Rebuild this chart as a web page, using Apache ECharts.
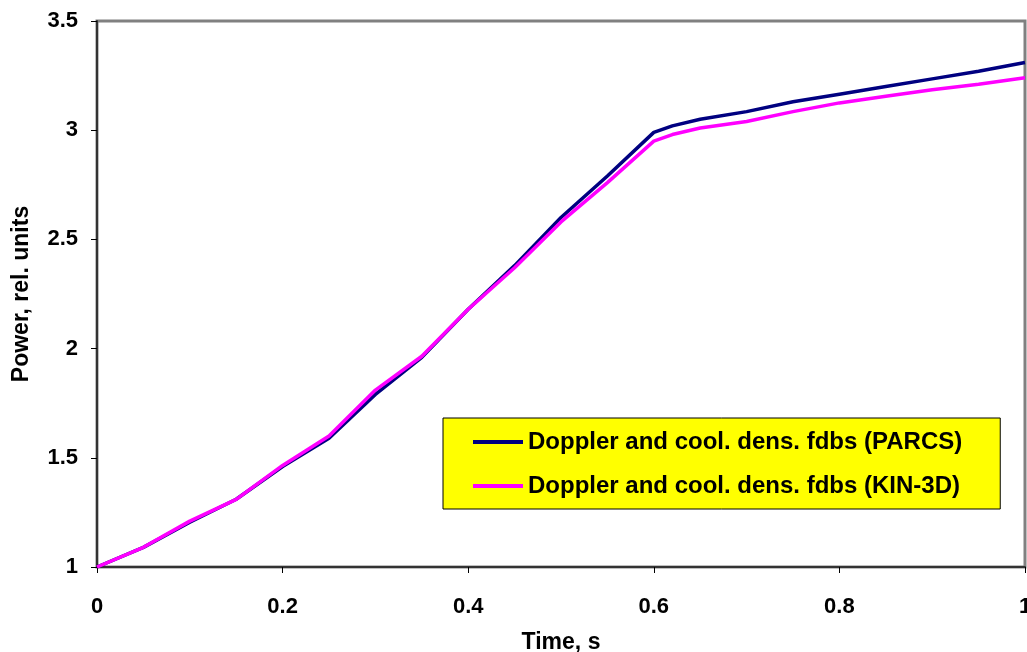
<!DOCTYPE html>
<html style="height: 100%">
<head>
    <meta charset="utf-8">
</head>
<body style="height: 100%; margin: 0; background: #fff">
<div id="container" style="width: 1027px;height: 652px"></div>

<script src="https://cdn.jsdelivr.net/npm/echarts@6/dist/echarts.min.js"></script>
<script type="text/javascript">
    // time, s
    var time = [0, 0.05, 0.1, 0.15, 0.2, 0.25, 0.3, 0.35, 0.4, 0.45, 0.5, 0.55, 0.6, 0.62, 0.65, 0.7, 0.75, 0.8, 0.85, 0.9, 0.95, 1.0];
    // power, rel. units
    var parcs = [1.00, 1.09, 1.205, 1.31, 1.46, 1.59, 1.79, 1.96, 2.18, 2.38, 2.60, 2.79, 2.99, 3.02, 3.05, 3.085, 3.13, 3.165, 3.20, 3.235, 3.27, 3.31];
    var kin3d = [1.00, 1.09, 1.21, 1.31, 1.465, 1.60, 1.81, 1.965, 2.18, 2.37, 2.58, 2.76, 2.95, 2.98, 3.01, 3.04, 3.085, 3.125, 3.155, 3.185, 3.21, 3.24];

    var names = ["Doppler and cool. dens. fdbs (PARCS)", "Doppler and cool. dens. fdbs (KIN-3D)"];

    function pairs(ys) {
        return time.map(function (t, i) { return [t, ys[i]]; });
    }

    var font = 'Liberation Sans, Arial, sans-serif';

    var myChart = echarts.init(document.getElementById("container"));

    var option = {
        animation: false,
        backgroundColor: '#fff',
        grid: {
            left: 97,
            top: 21,
            right: 2,
            bottom: 85,
            outerBoundsMode: 'none',
            containLabel: false,
            show: true,
            borderColor: '#808080',
            borderWidth: 3
        },
        legend: {
            orient: 'vertical',
            left: 443,
            top: 418,
            backgroundColor: '#ffff00',
            borderColor: '#000',
            borderWidth: 1,
            borderRadius: 0,
            padding: [12, 38, 11, 30],
            itemGap: 20,
            itemWidth: 50,
            itemHeight: 4,
            icon: 'rect',
            data: names,
            textStyle: {
                fontFamily: font,
                fontWeight: 'bold',
                fontSize: 24,
                lineHeight: 24,
                color: '#000'
            }
        },
        xAxis: {
            type: 'value',
            min: 0,
            max: 1,
            interval: 0.2,
            name: 'Time, s',
            nameLocation: 'middle',
            nameGap: 64,
            nameTextStyle: {fontFamily: font, fontWeight: 'bold', fontSize: 23, color: '#000'},
            axisLine: {onZero: false, lineStyle: {color: '#333', width: 2}},
            axisTick: {show: true, length: 6, lineStyle: {color: '#000'}},
            axisLabel: {margin: 29, fontFamily: font, fontWeight: 'bold', fontSize: 22, color: '#000'},
            splitLine: {show: false}
        },
        yAxis: {
            type: 'value',
            min: 1,
            max: 3.5,
            interval: 0.5,
            name: 'Power, rel. units',
            nameLocation: 'middle',
            nameGap: 64,
            nameTextStyle: {fontFamily: font, fontWeight: 'bold', fontSize: 23, color: '#000'},
            axisLine: {show: true, onZero: false, lineStyle: {color: '#333', width: 2}},
            axisTick: {show: true, length: 6, lineStyle: {color: '#000'}},
            axisLabel: {margin: 19, fontFamily: font, fontWeight: 'bold', fontSize: 22, color: '#000'},
            splitLine: {show: false}
        },
        series: [
            {
                name: names[0],
                type: 'line',
                symbol: 'none',
                data: pairs(parcs),
                itemStyle: {color: '#000080'},
                lineStyle: {color: '#000080', width: 3.5}
            },
            {
                name: names[1],
                type: 'line',
                symbol: 'none',
                data: pairs(kin3d),
                itemStyle: {color: '#ff00ff'},
                lineStyle: {color: '#ff00ff', width: 3.5}
            }
        ]
    };

    myChart.setOption(option, true);
</script>
</body>
</html>
